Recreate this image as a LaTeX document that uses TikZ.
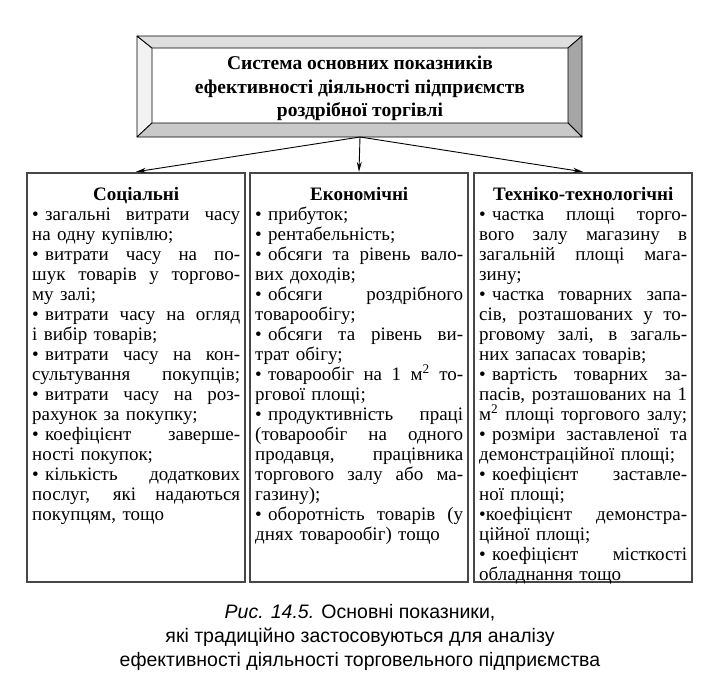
\documentclass[tikz,border=0pt]{standalone}
\usepackage{fontspec}
\setmainfont{Liberation Serif}
\newfontfamily\capfont{Liberation Sans}
\usetikzlibrary{arrows.meta}
\newlength\colw
\setlength\colw{208pt}
\newcommand\jl[1]{{\spaceskip=0.25em plus 20em minus 0.08em\relax\makebox[\colw][s]{#1}}}
\newcommand\hl[1]{\makebox[\colw][c]{\rule{0pt}{14pt}\bfseries #1}}
\newcommand\bu{•\hspace*{0.33em}}
\begin{document}
\begin{tikzpicture}[x=1pt,y=-1pt,
  colbox/.style={draw=black!72, line width=2.4pt, minimum width=218pt, minimum height=409pt, inner sep=0pt},
  coltext/.style={anchor=north west, inner sep=0pt, text width=\colw, align=left, font=\fontsize{19}{20}\selectfont},
  bevel/.style={draw=black, line width=0.8pt, line join=round},
  arr/.style={-{Stealth[length=10pt,width=5pt]}, line width=0.9pt},
  ]
\fill[white] (0,0) rectangle (702,680);
\useasboundingbox (0,0) rectangle (702,680);
% bevelled frame of the title box
\filldraw[bevel, fill=gray!10] (137,36) -- (152,48) -- (152,123) -- (137,137) -- cycle;
\filldraw[bevel, fill=gray!25] (137,36) -- (582,36) -- (568,48) -- (152,48) -- cycle;
\filldraw[bevel, fill=gray!70] (582,36) -- (582,137) -- (568,123) -- (568,48) -- cycle;
\filldraw[bevel, fill=gray!42] (137,137) -- (582,137) -- (568,123) -- (152,123) -- cycle;
\node[inner sep=0pt, minimum width=416pt, minimum height=75pt, align=center,
      font=\bfseries\fontsize{19.5}{23.5}\selectfont] (top) at (360,88.5)
  {Система основних показників\\ефективності діяльності підприємств\\роздрібної торгівлі};
\coordinate (fork) at (360,137);
% column boxes
\node[colbox] (soc) at (136,377.5) {};
\node[colbox] (eco) at (359,377.5) {};
\node[colbox] (tech) at (583,377.5) {};
\draw[arr] (fork) -- (soc.north);
\draw[arr] (fork) -- (eco.north);
\draw[arr] (fork) -- (tech.north);
% column texts
\node[coltext] (soct) at (32,186) {%
\hl{Соціальні}\\
\jl{\bu загальні витрати часу}\\
на одну купівлю;\\
\jl{\bu витрати часу на по-}\\
\jl{шук товарів у торгово-}\\
му залі;\\
\jl{\bu витрати часу на огляд}\\
і вибір товарів;\\
\jl{\bu витрати часу на кон-}\\
\jl{сультування покупців;}\\
\jl{\bu витрати часу на роз-}\\
рахунок за покупку;\\
\jl{\bu коефіцієнт заверше-}\\
ності покупок;\\
\jl{\bu кількість додаткових}\\
\jl{послуг, які надаються}\\
покупцям, тощо};
\node[coltext] (ecot) at (255,186) {%
\hl{Економічні}\\
\bu прибуток;\\
\bu рентабельність;\\
\jl{\bu обсяги та рівень вало-}\\
вих доходів;\\
\jl{\bu обсяги роздрібного}\\
товарообігу;\\
\jl{\bu обсяги та рівень ви-}\\
трат обігу;\\
\jl{\bu товарообіг на 1 м\textsuperscript{2} то-}\\
ргової площі;\\
\jl{\bu продуктивність праці}\\
\jl{(товарообіг на одного}\\
\jl{продавця, працівника}\\
\jl{торгового залу або ма-}\\
газину);\\
\jl{\bu оборотність товарів (у}\\
днях товарообіг) тощо};
\node[coltext] (techt) at (479,186) {%
\hl{Техніко-технологічні}\\
\jl{\bu частка площі торго-}\\
\jl{вого залу магазину в}\\
\jl{загальній площі мага-}\\
зину;\\
\jl{\bu частка товарних запа-}\\
\jl{сів, розташованих у то-}\\
\jl{рговому залі, в загаль-}\\
них запасах товарів;\\
\jl{\bu вартість товарних за-}\\
\jl{пасів, розташованих на 1}\\
\jl{м\textsuperscript{2} площі торгового залу;}\\
\jl{\bu розміри заставленої та}\\
демонстраційної площі;\\
\jl{\bu коефіцієнт заставле-}\\
ної площі;\\
\jl{•коефіцієнт демонстра-}\\
ційної площі;\\
\jl{\bu коефіцієнт місткості}\\
обладнання тощо};
% caption
\node[align=center, font=\capfont\fontsize{19.5}{24}\selectfont] (cap) at (360,637)
  {\textit{Рис. 14.5.} Основні показники,\\які традиційно застосовуються для аналізу\\ефективності діяльності торговельного підприємства};
\end{tikzpicture}
\end{document}
